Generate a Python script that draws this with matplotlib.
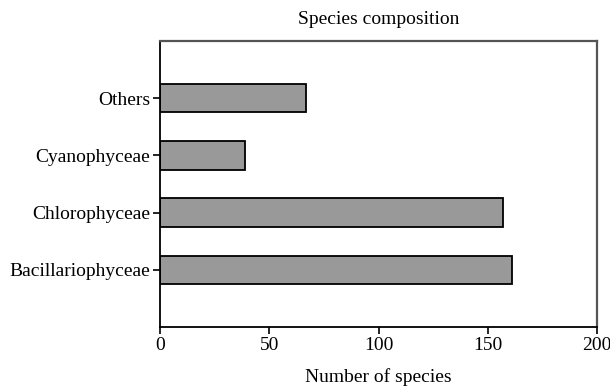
import numpy as np
import matplotlib.pyplot as plt

plt.rcParams['font.family'] = ['Liberation Serif', 'DejaVu Serif']

groups = ['Bacillariophyceae', 'Chlorophyceae', 'Cyanophyceae', 'Others']
n_species = [161, 157, 39, 67]
x_ticks = [0, 50, 100, 150, 200]

fig = plt.figure(figsize=(6.1, 3.89), dpi=100)
ax = fig.add_axes([0.262, 0.159, 0.717, 0.736])

pos = np.arange(len(groups))
ax.barh(pos, n_species, height=0.5, color='#999999', edgecolor='black', linewidth=1.3)

ax.set_xlim(0, 200)
ax.set_ylim(-1, 4)
ax.set_xticks(x_ticks)
ax.set_yticks(pos)
ax.set_yticklabels(groups)
ax.tick_params(axis='both', labelsize=14, length=5, width=1.2, direction='out', colors='black', pad=2)

for side in ['left', 'bottom']:
    ax.spines[side].set_linewidth(1.3)
    ax.spines[side].set_color('black')
for side in ['top', 'right']:
    ax.spines[side].set_linewidth(1.6)
    ax.spines[side].set_color('#555555')

ax.set_title('Species composition', fontsize=14, pad=12)
ax.set_xlabel('Number of species', fontsize=14, labelpad=10)

fig.savefig('out.png', dpi=100)
